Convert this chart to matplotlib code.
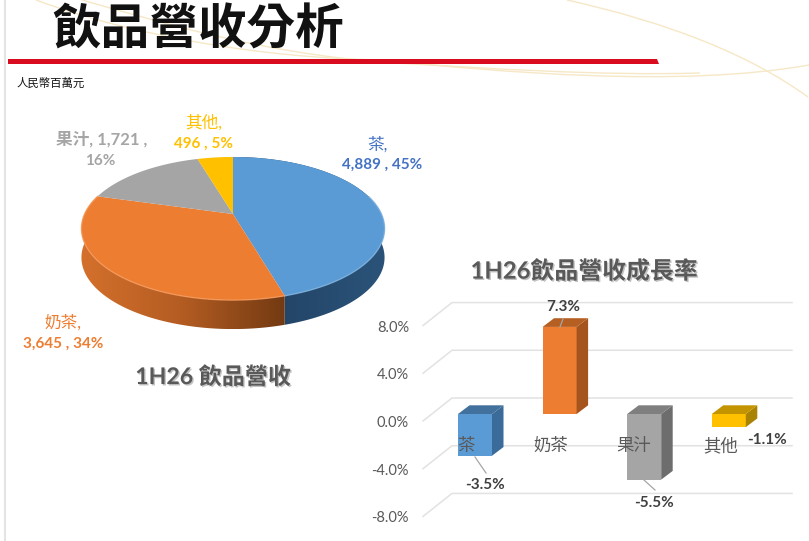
import numpy as np
import matplotlib
matplotlib.use('Agg')
import matplotlib.pyplot as plt
import matplotlib.patheffects as pe
from matplotlib.patches import PathPatch, Polygon
from matplotlib.path import Path
from matplotlib.colors import LinearSegmentedColormap

# Data
pie_names = ['茶', '奶茶', '果汁', '其他']
pie_values = [4889, 3645, 1721, 496]
growth_values = [-3.5, 7.3, -5.5, -1.1]
growth_ticks = [8, 4, 0, -4, -8]

colors = ['#5b9bd5', '#ed7d31', '#a5a5a5', '#ffc000']
side_colors = ['#3b6b99', '#a5541d', '#6d6d6d', '#a88200']
roof_colors = ['#41719c', '#b55f22', '#7f7f7f', '#c49400']
label_colors = ['#4472c4', '#ed7d31', '#a5a5a5', '#ffc000']

W, H = 809, 541
CJK = 'Noto Sans CJK TC'
LAT = ['Lato', CJK]
shadow = [pe.withSimplePatchShadow(offset=(1, -1), alpha=0.35, shadow_rgbFace='#555555')]

fig = plt.figure(figsize=(W / 100, H / 100), dpi=100, facecolor='white')

# full page axes in pixels: slide background and pie
ax = fig.add_axes([0, 0, 1, 1], zorder=0)


def curve(pts, color='#f6e8c6', lw=1.0):
    codes = [Path.MOVETO] + [Path.CURVE4] * (len(pts) - 1)
    ax.add_patch(PathPatch(Path(pts, codes), fc='none', ec=color, lw=lw))


curve([(36, 0), (130, 35), (260, 58), (381, 60)])
curve([(381, 60), (500, 72), (680, 88), (809, 65)])
curve([(82, 0), (170, 25), (260, 52), (380, 62)])
curve([(380, 62), (480, 68), (600, 76), (700, 73)])
curve([(567, 0), (670, 23), (750, 55), (808, 97)])
ax.plot([5, 5], [0, H], color='#e4e4e4', lw=1.5)
ax.add_patch(Polygon([(8, 59), (657, 59), (659, 64), (8, 64)], fc='#d80c1e', ec='none'))

ax.text(52, 30, '飲品營收分析', family=CJK, weight='bold', fontsize=35, color='#111111',
        ha='left', va='center')
ax.text(17, 83, '人民幣百萬元', family=CJK, fontsize=8.2, color='#111111', ha='left', va='center')

# pie in perspective, clockwise from the top
cx, cy = 233, 214
pa, pb, pk = 148.4, 68.6, 0.203
depth = 29


def rim(a0, a1, n=120):
    t = np.radians(np.linspace(a0, a1, n))
    u, v = np.sin(t), np.cos(t)
    w = 1 + pk * v
    return cx + pa * u / w, cy - pb * v / w


angles = np.concatenate([[0], np.cumsum(pie_values) / sum(pie_values) * 360])

side_maps = [LinearSegmentedColormap.from_list('b', ['#1f3f60', '#2b5379']),
             LinearSegmentedColormap.from_list('o', ['#d4702c', '#b35c22', '#733a12'])]
side_span = [(angles[0], angles[1]), (angles[1], angles[2])]
for (a0, a1), cmap in zip(side_span, side_maps):
    x, y = rim(a0, a1)
    poly = np.column_stack([np.r_[x, x[::-1]], np.r_[y, y[::-1] + depth]])
    grad = np.linspace(0, 1, 256).reshape(1, -1)
    im = ax.imshow(grad, cmap=cmap, aspect='auto', zorder=1,
                   extent=(poly[:, 0].min(), poly[:, 0].max(), poly[:, 1].max(), poly[:, 1].min()))
    patch = Polygon(poly, transform=ax.transData, fc='none', ec='none')
    ax.add_patch(patch)
    im.set_clip_path(patch)

edge_light = ['#7db2e0', '#f59a5c']
for i in range(4):
    x, y = rim(angles[i], angles[i + 1])
    ax.fill(np.r_[cx, x], np.r_[cy, y], color=colors[i], lw=0, zorder=2)
for i in range(2):
    x, y = rim(angles[i] + (75 if i == 0 else 0), angles[i + 1])
    ax.plot(x, y, color=edge_light[i], lw=1.0, alpha=0.8, zorder=3)

pie_labels = [
    (378, 144, '茶,', f'{pie_values[0]:,} , 45%', 382, 165),
    (63, 322, '奶茶,', f'{pie_values[1]:,} , 34%', 63, 344),
    (102, 139, f'果汁, {pie_values[2]:,} ,', '16%', 100, 161),
    (204, 122, '其他,', f'{pie_values[3]} , 5%', 204, 144),
]
for i, (x1, y1, s1, s2, x2, y2) in enumerate(pie_labels):
    ax.text(x1, y1, s1, family=LAT, fontsize=12, color=label_colors[i], ha='center', va='center',
            weight='bold' if i == 2 else 'normal')
    ax.text(x2, y2, s2, family=LAT, fontsize=11, color=label_colors[i], ha='center', va='center',
            weight='bold')

ax.text(213, 377, '1H26 飲品營收', family=LAT, weight='bold', fontsize=16.6, color='#595959',
        ha='center', va='center', path_effects=shadow)
ax.text(584, 271, '1H26飲品營收成長率', family=LAT, weight='bold', fontsize=17.2, color='#595959',
        ha='center', va='center', path_effects=shadow)

ax.set_xlim(0, W)
ax.set_ylim(H, 0)
ax.axis('off')

# growth bars, axes placed so one unit matches the picture
step_x, x0 = 84.6, 475
step_y, y0 = 11.93, 414
left, right, top, bottom = 400, 809, 280, 535
ax2 = fig.add_axes([left / W, 1 - bottom / H, (right - left) / W, (bottom - top) / H], zorder=1)
ax2.patch.set_alpha(0)
ax2.set_xlim((left - x0) / step_x, (right - x0) / step_x)
ax2.set_ylim((y0 - bottom) / step_y, (y0 - top) / step_y)
ax2.axis('off')

pos = np.arange(len(growth_values))
bw = 34 / step_x
dx, dy = 11.5 / step_x, 8.7 / step_y
back_off = (y0 - 398) / step_y
front_off = (y0 - 421) / step_y
grid_x = [(423 - x0) / step_x, (452 - x0) / step_x, (792 - x0) / step_x]
for t in growth_ticks:
    ax2.plot(grid_x, [t + front_off, t + back_off, t + back_off], color='#e2e2e2', lw=1.1, zorder=1)
    ax2.text((409 - x0) / step_x, t + front_off - 2 / step_y, f'{t:.1f}%', family='Lato', fontsize=10.5,
             color='#595959', ha='right', va='center')

ax2.bar(pos, growth_values, width=bw, color=colors, zorder=3)
for i, v in enumerate(growth_values):
    r, l = pos[i] + bw / 2, pos[i] - bw / 2
    hi, lo = max(v, 0), min(v, 0)
    ax2.fill([r, r + dx, r + dx, r], [lo, lo + dy, hi + dy, hi], color=side_colors[i], lw=0, zorder=3)
    ax2.fill([l, l + dx, r + dx, r], [hi, hi + dy, hi + dy, hi], color=roof_colors[i], lw=0, zorder=3)

# labels on top of the bars
ax3 = fig.add_axes([0, 0, 1, 1], zorder=2)
ax3.patch.set_alpha(0)
ax3.set_xlim(0, W)
ax3.set_ylim(H, 0)
ax3.axis('off')

name_pos = [466, 551, 634, 721]
for x, name in zip(name_pos, pie_names):
    ax3.text(x, 446, name, family=CJK, fontsize=12.5, color='#595959', ha='center', va='center')

value_pos = [(485, 485), (563, 307), (654, 503), (767, 440)]
for (x, y), v in zip(value_pos, growth_values):
    ax3.text(x, y, f'{v:.1f}%', family='Lato', weight='bold', fontsize=11, color='#404040',
             ha='center', va='center')
for x, y in [((475, 486), (457, 473)), ((563, 560), (319, 327)), ((644, 655), (480, 490))]:
    ax3.plot(x, y, color='#a6a6a6', lw=0.9)

fig.savefig('out.png', dpi=100, facecolor='white')
